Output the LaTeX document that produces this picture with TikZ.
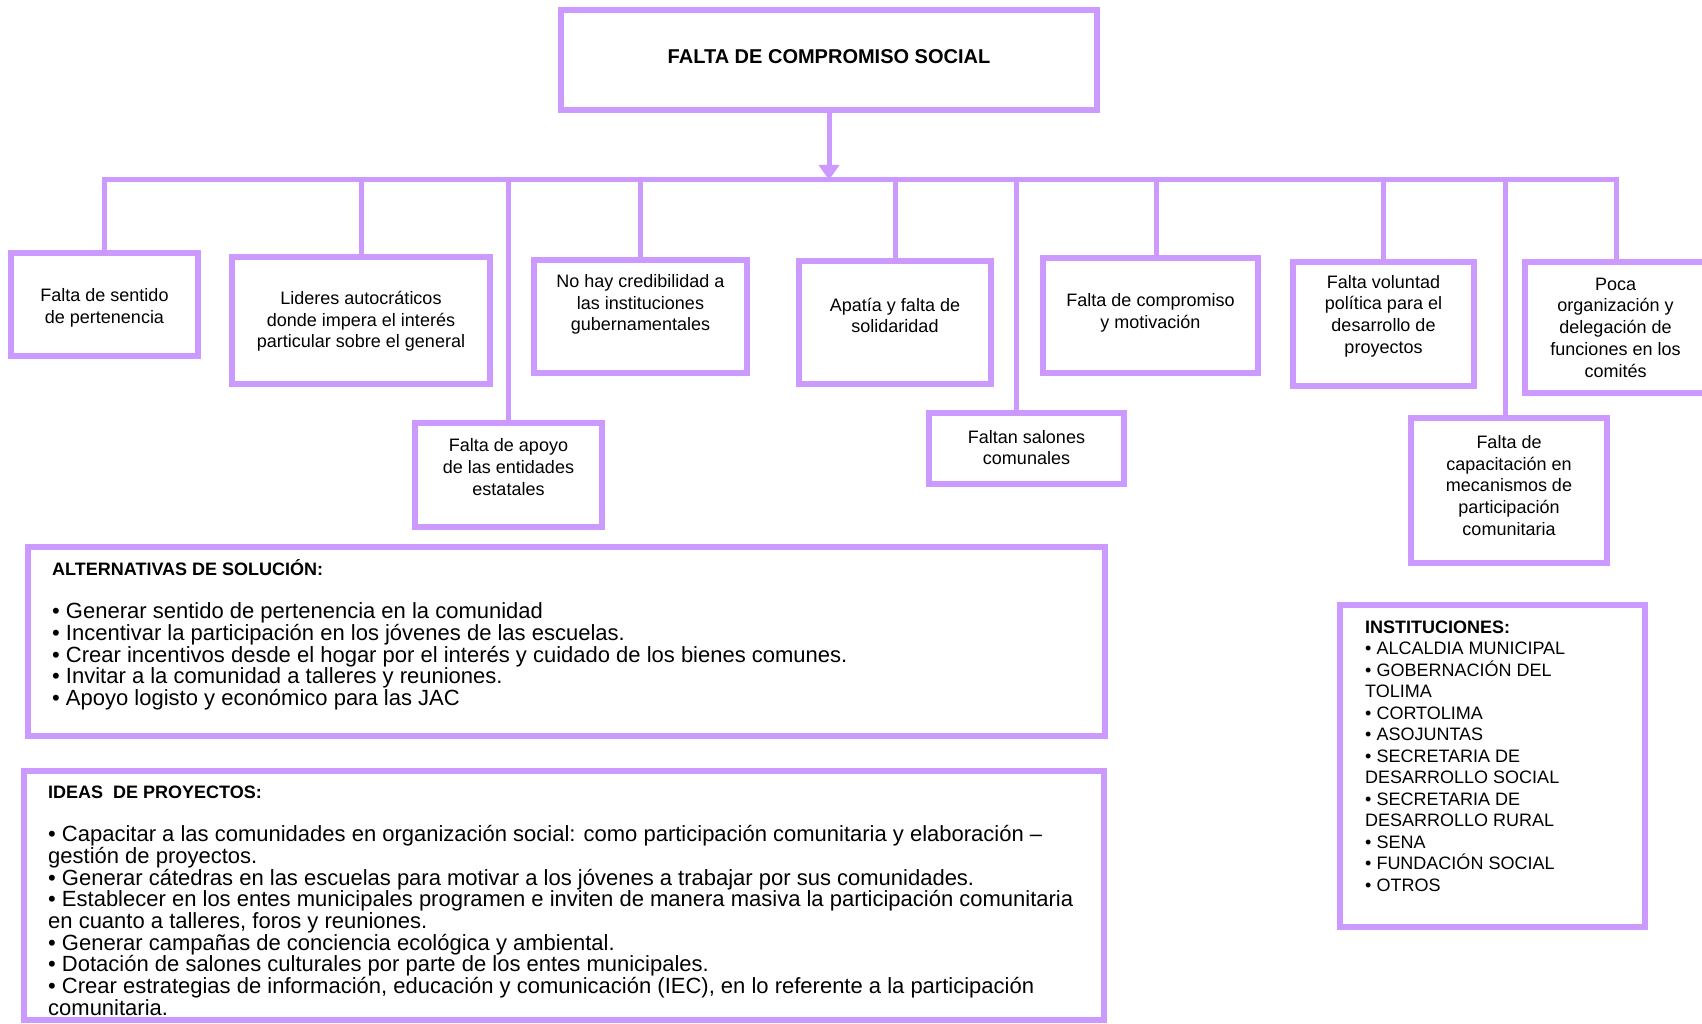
\documentclass[tikz,border=0pt]{standalone}
\usepackage{fontspec}
\setmainfont{Liberation Sans}
\usetikzlibrary{positioning,arrows.meta,calc}
\definecolor{lila}{RGB}{204,153,255}
\tikzset{
  caja/.style={draw=lila, line width=6pt, inner sep=0pt, outer sep=0pt},
  enlace/.style={draw=lila, line width=5pt},
  txt/.style={align=center, inner sep=0pt, font={\fontsize{18}{21.7}\selectfont}},
  lista/.style={anchor=north west, align=left, inner sep=0pt, font={\fontsize{22}{21.7}\selectfont\lineskiplimit-50pt}},
}
\newcommand{\encab}[1]{{\fontsize{18}{21.7}\selectfont\bfseries\rule{0pt}{20pt}#1}}

\begin{document}
\begin{tikzpicture}[x=1pt, y=-1pt]
  \useasboundingbox (0,0) rectangle (1702,1024);
  % problema central
  \node[caja, minimum width=536pt, minimum height=100pt] (raiz) at (829,60) {};
  \node[inner sep=0pt, font={\fontsize{20}{24}\selectfont\bfseries}] (titulo) at ($(raiz)+(0,-3)$) {FALTA DE COMPROMISO SOCIAL};
  \coordinate (bus) at (829,180);
  % causas, fila de arriba
  \node[caja, minimum width=187pt, minimum height=103pt] (sent) at (104.5,304.5) {};
  \node[caja, minimum width=258pt, minimum height=127pt] (lid) at (361,320.5) {};
  \node[caja, minimum width=213pt, minimum height=113pt] (cred) at (640.5,316.5) {};
  \node[caja, minimum width=192pt, minimum height=123pt] (apat) at (895,322.5) {};
  \node[caja, minimum width=215pt, minimum height=115pt] (comp) at (1150.5,315.5) {};
  \node[caja, minimum width=181pt, minimum height=124pt] (vol) at (1383.5,324) {};
  \node[caja, minimum width=183pt, minimum height=131pt] (poca) at (1616.5,327.5) {};
  % causas, fila de abajo
  \node[caja, minimum width=187pt, minimum height=104pt] (apoyo) at (508.5,475) {};
  \node[caja, minimum width=195pt, minimum height=71pt] (salon) at (1026.5,448.5) {};
  \node[caja, minimum width=196pt, minimum height=145pt] (capac) at (1509,490.5) {};
  % textos de las causas
  \node[txt] (sentT) at ($(sent)+(0,3)$) {Falta de sentido\\de pertenencia};
  \node[txt] (lidT) at ($(lid)+(0,1)$) {Lideres autocráticos\\donde impera el interés\\particular sobre el general};
  \node[txt] (credT) at ($(cred)+(0,-12)$) {No hay credibilidad a\\las instituciones\\gubernamentales};
  \node[txt] (apatT) at ($(apat)+(0,-7)$) {Apatía y falta de\\solidaridad};
  \node[txt] (compT) at ($(comp)+(0,-3)$) {Falta de compromiso\\y motivación};
  \node[txt] (volT) at ($(vol)+(0,-8)$) {Falta voluntad\\política para el\\desarrollo de\\proyectos};
  \node[txt] (pocaT) at ($(poca)+(-1,0)$) {Poca\\organización y\\delegación de\\funciones en los\\comités};
  \node[txt] (apoyoT) at ($(apoyo)+(0,-8)$) {Falta de apoyo\\de las entidades\\estatales};
  \node[txt] (salonT) at ($(salon)+(0,-1)$) {Faltan salones\\comunales};
  \node[txt] (capacT) at ($(capac)+(0,-5)$) {Falta de\\capacitación en\\mecanismos de\\participación\\comunitaria};
  % conectores
  \draw[enlace, -{Triangle[length=15pt,width=20pt]}] (raiz.south) -- (raiz.south |- bus);
  \draw[enlace] (sent.north) -- (sent.north |- bus) -- (poca.north |- bus) -- (poca.north);
  \foreach \n in {lid,apoyo,cred,apat,vol}
    \draw[enlace] (\n.north) -- (\n.north |- bus);
  \draw[enlace] ([xshift=-10pt]salon.north) -- ([xshift=-10pt]salon.north |- bus);
  \draw[enlace] ([xshift=6pt]comp.north) -- ([xshift=6pt]comp.north |- bus);
  \draw[enlace] ([xshift=-4pt]capac.north) -- ([xshift=-4pt]capac.north |- bus);
  % recuadros de texto
  \node[caja, minimum width=1077pt, minimum height=189pt] (alt) at (566.5,641.5) {};
  \node[caja, minimum width=1080pt, minimum height=249pt] (ideas) at (564,895.5) {};
  \node[caja, minimum width=305pt, minimum height=322pt] (inst) at (1492.5,766) {};
  \node[lista] (altT) at (52,555) {\encab{ALTERNATIVAS DE SOLUCIÓN:}\\ \\
    • Generar sentido de pertenencia en la comunidad\\
    • Incentivar la participación en los jóvenes de las escuelas.\\
    • Crear incentivos desde el hogar por el interés y cuidado de los bienes comunes.\\
    • Invitar a la comunidad a talleres y reuniones.\\
    • Apoyo logisto y económico para las JAC};
  \node[lista] (ideasT) at (48,778) {\encab{IDEAS\ \ DE PROYECTOS:}\\ \\
    • Capacitar a las comunidades en organización social: como participación comunitaria y elaboración –\\
    gestión de proyectos.\\
    • Generar cátedras en las escuelas para motivar a los jóvenes a trabajar por sus comunidades.\\
    • Establecer en los entes municipales programen e inviten de manera masiva la participación comunitaria\\
    en cuanto a talleres, foros y reuniones.\\
    • Generar campañas de conciencia ecológica y ambiental.\\
    • Dotación de salones culturales por parte de los entes municipales.\\
    • Crear estrategias de información, educación y comunicación (IEC), en lo referente a la participación\\
    comunitaria.};
  \node[lista, font={\fontsize{18}{21.5}\selectfont\lineskiplimit-50pt}] (instT) at (1365,613) {\encab{INSTITUCIONES:}\\
    • ALCALDIA MUNICIPAL\\
    • GOBERNACIÓN DEL\\
    TOLIMA\\
    • CORTOLIMA\\
    • ASOJUNTAS\\
    • SECRETARIA DE\\
    DESARROLLO SOCIAL\\
    • SECRETARIA DE\\
    DESARROLLO RURAL\\
    • SENA\\
    • FUNDACIÓN SOCIAL\\
    • OTROS};
\end{tikzpicture}
\end{document}
